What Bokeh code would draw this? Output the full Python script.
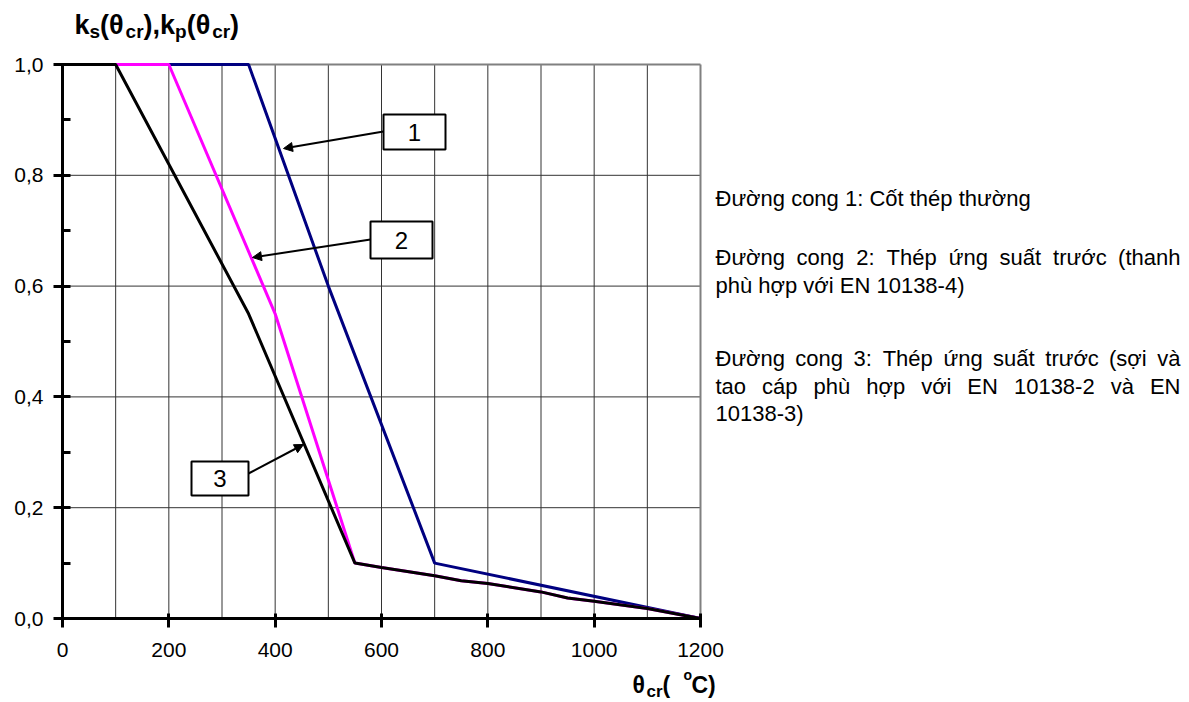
from bokeh.plotting import figure
from bokeh.models import (FixedTicker, CustomJSTickFormatter, Label, BoxAnnotation,
                          Arrow, NormalHead, Range1d)
from bokeh.embed import file_html
from bokeh.resources import INLINE

# Reduction factors of steel strength with temperature
temp_1 = [0, 350, 500, 700, 1200]
k_1 = [1.0, 1.0, 0.6, 0.1, 0.0]

temp_2 = [0, 200, 400, 550, 600, 700, 750, 800, 900, 950, 1000, 1100, 1200]
k_2 = [1.0, 1.0, 0.55, 0.1, 0.092, 0.077, 0.068, 0.063, 0.048, 0.037, 0.031, 0.018, 0.0]

temp_3 = [0, 100, 350, 550, 600, 700, 750, 800, 900, 950, 1000, 1100, 1200]
k_3 = [1.0, 1.0, 0.55, 0.1, 0.092, 0.077, 0.068, 0.063, 0.048, 0.037, 0.031, 0.018, 0.0]

x_ticks = [0, 200, 400, 600, 800, 1000, 1200]
y_ticks = [0.0, 0.2, 0.4, 0.6, 0.8, 1.0]
y_minor = [0.1, 0.3, 0.5, 0.7, 0.9]
grid_x = [100, 200, 300, 400, 500, 600, 700, 800, 900, 1000, 1100]
grid_y = [0.2, 0.4, 0.6, 0.8]
t_max, k_max = 1200, 1.0

FONT = "Liberation Sans"
W, H = 1189, 702
# plot box inside the canvas (pixels): left, right, top, bottom
PL, PR, PT, PB = 62, 700, 64, 618

sx = (PR - PL) / t_max          # px per degree
sy = (PB - PT) / k_max          # px per unit of k
x_start, x_end = -PL / sx, t_max + (W - PR) / sx
y_start, y_end = -(H - PB) / sy, k_max + PT / sy

p = figure(width=W, height=H, output_backend="svg", toolbar_location=None,
           x_range=Range1d(x_start, x_end), y_range=Range1d(y_start, y_end),
           min_border=0, background_fill_color="white", border_fill_color="white")
p.title.visible = False
p.outline_line_color = None
p.xgrid.visible = False
p.ygrid.visible = False


def dx(px):
    # canvas pixel -> data x
    return x_start + px / sx


def dy(py):
    # canvas pixel -> data y
    return y_end - py / sy


# grid and the grey frame on top/right
p.segment(x0=grid_x, y0=[0] * len(grid_x), x1=grid_x, y1=[k_max] * len(grid_x),
          line_color="#333333", line_width=1)
p.segment(x0=[0] * len(grid_y), y0=grid_y, x1=[t_max] * len(grid_y), y1=grid_y,
          line_color="#333333", line_width=1)
p.segment(x0=[0, t_max], y0=[k_max, 0], x1=[t_max, t_max], y1=[k_max, k_max],
          line_color="#808080", line_width=2)

# curves (3 drawn last, on top)
p.line(temp_1, k_1, line_color="#000080", line_width=3)
p.line(temp_2, k_2, line_color="#FF00FF", line_width=3)
p.line(temp_3, k_3, line_color="black", line_width=3)

# axes drawn at the origin of the data
p.xaxis.fixed_location = 0
p.yaxis.fixed_location = 0
p.xaxis.bounds = (0, t_max)
p.yaxis.bounds = (0, k_max)
p.xaxis.ticker = FixedTicker(ticks=x_ticks, minor_ticks=[])
p.yaxis.ticker = FixedTicker(ticks=y_ticks, minor_ticks=y_minor)
p.yaxis.formatter = CustomJSTickFormatter(code='return tick.toFixed(1).replace(".", ",");')
for ax in (p.xaxis, p.yaxis):
    ax.axis_line_width = 3
    ax.axis_line_color = "black"
    ax.major_tick_line_width = 3
    ax.major_tick_line_color = "black"
    ax.major_label_text_font = FONT
    ax.major_label_text_font_size = "21px"
    ax.major_label_text_color = "black"
p.xaxis.major_tick_in = 5
p.xaxis.major_tick_out = 9
p.xaxis.major_label_standoff = 15
p.xaxis.minor_tick_line_color = None
p.yaxis.major_tick_in = 8
p.yaxis.major_tick_out = 9
p.yaxis.major_label_standoff = 10
p.yaxis.minor_tick_in = 8
p.yaxis.minor_tick_out = 0
p.yaxis.minor_tick_line_width = 3
p.yaxis.minor_tick_line_color = "black"

# numbered callouts
callouts = [
    ("1", (383, 114, 445, 149), (383, 131), (283, 148)),
    ("2", (370, 221, 432, 258), (370, 239), (252, 257)),
    ("3", (191, 461, 248, 495), (248, 473), (303, 444)),
]
for txt, (x0, y0, x1, y1), tail, head in callouts:
    p.add_layout(Arrow(end=NormalHead(size=9, fill_color="black", line_color="black", line_width=1),
                       x_start=dx(tail[0]), y_start=dy(tail[1]),
                       x_end=dx(head[0]), y_end=dy(head[1]),
                       line_color="black", line_width=2))
    p.add_layout(BoxAnnotation(left=dx(x0), right=dx(x1), top=dy(y0), bottom=dy(y1),
                               fill_color="white", fill_alpha=1.0,
                               line_color="black", line_width=2, line_alpha=1.0))
    p.add_layout(Label(x=dx((x0 + x1) / 2), y=dy((y0 + y1) / 2), text=txt,
                       text_font=FONT, text_font_size="24px", text_color="black",
                       text_align="center", text_baseline="middle"))

# approximate advance widths (em) for Liberation Sans
REG = {" ": 0.278, "c": 0.5, "g": 0.556, "h": 0.556, "i": 0.222, "n": 0.556, "p": 0.556,
       "r": 0.333, "s": 0.5, "t": 0.278, "v": 0.5, "T": 0.611, "E": 0.667, "N": 0.722,
       "Đ": 0.722, "C": 0.722, ":": 0.278, "-": 0.333, "(": 0.333, ")": 0.333}
for ch in "aàáấeéoốuù0123456789":
    REG[ch] = 0.556
for ch in "ưứờớợ":
    REG[ch] = 0.65
BOLD = {"k": 0.556, "s": 0.556, "(": 0.333, ")": 0.333, "θ": 0.611, "c": 0.556,
        "r": 0.389, ",": 0.278, "p": 0.611, "o": 0.611, "C": 0.722}


def text_width(s, size, table):
    return sum(table.get(ch, 0.556) for ch in s) * size


def piece(px, base, text, size, bold=True, align="left"):
    # base is the pixel row of the text baseline
    p.add_layout(Label(x=dx(px), y=dy(base - 0.4 * size), text=text, text_font=FONT,
                       text_font_size=f"{size}px", text_color="black",
                       text_font_style="bold" if bold else "normal",
                       text_align=align, text_baseline="alphabetic"))


def chain(x, parts):
    # parts: (text, size, baseline)
    for txt, size, base in parts:
        piece(x, base, txt, size)
        x += text_width(txt, size, BOLD)


# y-axis title: k_s(θ_cr), k_p(θ_cr)
M, S = 27, 19
chain(74, [("k", M, 35), ("s", S, 39), ("(", M, 35), ("θ", M, 35), ("cr", S, 39),
           (")", M, 35), (",", M, 35), ("k", M, 35), ("p", S, 39), ("(", M, 35),
           ("θ", M, 35), ("cr", S, 39), (")", M, 35)])

# x-axis title: θ_cr(°C)
chain(632, [("θ", 23, 694), ("cr", 17, 698), ("(", 23, 694)])
piece(683, 680, "o", 14)
chain(691, [("C", 23, 694), (")", 23, 694)])

# description of the curves (justified block)
TX0, TX1, TS = 715, 1180, 22
notes = [
    (207, "Đường cong 1: Cốt thép thường", False),
    (266, "Đường cong 2: Thép ứng suất trước (thanh", True),
    (294, "phù hợp với EN 10138-4)", False),
    (367, "Đường cong 3: Thép ứng suất trước (sợi và", True),
    (395, "tao cáp phù hợp với EN 10138-2 và EN", True),
    (422, "10138-3)", False),
]
for base, line, justify in notes:
    if not justify:
        piece(TX0, base, line, TS, bold=False)
        continue
    words = line.split(" ")
    widths = [text_width(w, TS, REG) for w in words]
    gap = (TX1 - TX0 - sum(widths)) / (len(words) - 1)
    x = TX0
    for i, w in enumerate(words):
        if i == len(words) - 1:
            piece(TX1, base, w, TS, bold=False, align="right")
        else:
            piece(x, base, w, TS, bold=False)
        x += widths[i] + gap

open("out.html", "w").write(file_html(p, INLINE))
